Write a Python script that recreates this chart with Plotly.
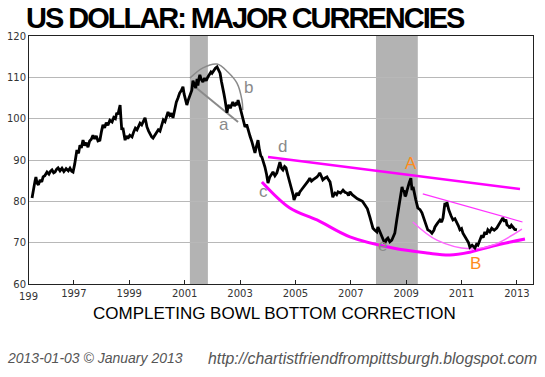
import plotly.graph_objects as go

# ---- data ----
years = [
 1995.49,1995.53,1995.56,1995.60,1995.63,1995.67,1995.72,1995.78,1995.84,1995.89,1995.95,
 1996.03,1996.10,1996.16,1996.21,1996.27,1996.32,1996.38,1996.43,1996.50,1996.57,1996.64,
 1996.72,1996.80,1996.86,1996.92,1996.97,1997.03,1997.07,1997.11,1997.17,1997.22,1997.27,
 1997.33,1997.39,1997.45,1997.51,1997.57,1997.63,1997.69,1997.75,1997.81,1997.87,1997.94,
 1998.00,1998.05,1998.11,1998.17,1998.23,1998.30,1998.38,1998.44,1998.50,1998.55,1998.59,
 1998.63,1998.67,1998.70,1998.73,1998.77,1998.81,1998.85,1998.90,1998.95,1999.02,1999.10,
 1999.16,1999.22,1999.28,1999.34,1999.39,1999.45,1999.51,1999.57,1999.61,1999.64,1999.70,
 1999.75,1999.81,1999.86,1999.93,2000.00,2000.05,2000.11,2000.17,2000.23,2000.29,2000.35,
 2000.40,2000.46,2000.52,2000.58,2000.64,2000.70,2000.76,2000.82,2000.88,2000.94,2000.98,
 2001.03,2001.08,2001.13,2001.19,2001.26,2001.30,2001.35,2001.40,2001.45,2001.48,2001.52,
 2001.55,2001.60,2001.66,2001.72,2001.78,2001.84,2001.90,2001.95,2001.99,2002.05,2002.11,
 2002.17,2002.22,2002.28,2002.33,2002.38,2002.42,2002.46,2002.50,2002.53,2002.57,2002.60,
 2002.65,2002.70,2002.74,2002.80,2002.85,2002.89,2002.93,2002.98,2003.03,2003.07,2003.12,
 2003.18,2003.24,2003.29,2003.36,2003.43,2003.48,2003.54,2003.59,2003.65,2003.70,2003.75,
 2003.79,2003.85,2003.90,2003.96,2004.01,2004.07,2004.12,2004.19,2004.26,2004.33,2004.39,
 2004.44,2004.50,2004.55,2004.61,2004.66,2004.72,2004.77,2004.82,2004.87,2004.92,2004.95,
 2005.00,2005.05,2005.11,2005.16,2005.22,2005.27,2005.35,2005.42,2005.47,2005.52,2005.58,
 2005.63,2005.70,2005.78,2005.83,2005.88,2005.94,2005.99,2006.06,2006.14,2006.20,2006.25,
 2006.30,2006.35,2006.39,2006.43,2006.49,2006.54,2006.63,2006.72,2006.79,2006.86,2006.92,
 2006.97,2007.05,2007.15,2007.24,2007.33,2007.42,2007.51,2007.60,2007.69,2007.75,2007.80,
 2007.87,2007.94,2007.98,2008.05,2008.12,2008.18,2008.23,2008.29,2008.34,2008.41,2008.48,
 2008.54,2008.59,2008.66,2008.70,2008.74,2008.80,2008.85,2008.89,2008.92,2008.96,2008.99,
 2009.03,2009.06,2009.11,2009.17,2009.21,2009.25,2009.28,2009.35,2009.42,2009.50,2009.57,
 2009.63,2009.68,2009.73,2009.78,2009.86,2009.93,2010.00,2010.04,2010.12,2010.22,2010.28,
 2010.33,2010.40,2010.44,2010.47,2010.54,2010.62,2010.69,2010.76,2010.83,2010.89,2010.94,
 2011.00,2011.05,2011.12,2011.19,2011.25,2011.30,2011.38,2011.48,2011.54,2011.59,2011.66,
 2011.73,2011.78,2011.84,2011.90,2011.95,2012.02,2012.09,2012.18,2012.27,2012.32,2012.38,
 2012.44,2012.49,2012.55,2012.60,2012.64,2012.70,2012.74,2012.80,2012.85,2012.92,2013.00,
]
dollar_index = [
 80.8,82.0,83.5,85.0,85.9,84.4,84.0,85.2,84.7,85.9,86.2,
 87.1,86.6,87.3,87.6,86.9,87.1,87.8,88.1,87.4,88.0,87.2,
 87.9,87.4,88.0,87.3,87.1,89.0,90.8,92.4,91.6,93.6,92.9,
 94.8,93.5,94.2,93.1,94.6,95.0,96.0,95.1,95.8,94.6,94.8,
 97.0,98.5,97.8,99.0,98.4,99.6,99.2,100.3,100.0,101.4,101.0,
 102.2,103.3,100.0,97.3,97.8,95.6,94.8,95.8,95.2,96.0,95.6,
 96.8,97.7,97.3,98.4,98.9,98.5,99.6,100.2,99.0,98.0,97.0,
 96.2,95.6,95.3,96.0,96.8,97.3,97.0,98.4,99.7,99.3,100.6,
 101.6,100.8,101.3,100.2,102.5,104.0,105.0,106.2,106.8,107.7,106.0,
 104.2,103.3,104.5,105.5,106.9,109.2,108.5,107.4,109.6,108.0,109.8,
 110.6,109.5,108.9,109.8,109.2,110.1,110.6,111.3,111.0,111.8,112.2,
 112.5,111.8,111.0,109.0,107.7,106.0,104.5,102.8,101.4,103.0,103.3,
 102.5,103.6,104.0,103.1,103.6,103.3,104.5,103.3,102.1,101.0,99.5,
 98.0,98.6,97.3,95.8,94.4,93.0,91.7,93.2,94.8,92.5,91.0,
 90.7,89.5,88.3,86.5,84.4,85.8,86.4,87.1,86.2,86.9,88.3,
 89.5,88.0,87.6,88.4,88.1,86.5,85.2,84.3,83.2,81.5,80.3,
 81.2,82.0,81.4,82.3,82.8,83.2,83.8,84.4,85.0,85.6,84.9,
 85.2,85.5,85.9,86.3,86.9,86.0,85.2,85.6,85.9,85.2,84.7,
 83.0,81.0,81.6,82.0,81.6,82.3,82.0,82.7,82.2,82.0,81.4,
 82.3,81.6,81.0,80.6,80.3,80.0,79.1,78.2,76.2,75.0,73.5,
 73.0,72.6,73.8,72.5,71.4,70.6,69.9,70.8,71.1,70.2,70.6,
 71.5,72.3,75.5,77.0,78.6,81.0,83.5,82.4,82.7,81.2,81.5,
 82.6,83.5,84.5,85.6,82.7,83.5,82.3,80.3,78.4,78.0,77.2,
 76.0,75.5,74.2,73.1,72.8,72.3,73.0,73.8,74.6,75.5,75.0,
 76.0,79.6,78.8,79.8,77.9,76.5,75.5,75.8,75.0,74.0,73.1,
 73.4,72.3,71.6,70.6,70.0,68.9,69.4,68.7,69.6,69.4,70.5,
 71.8,71.2,72.6,72.0,73.1,72.6,73.5,73.0,73.5,74.1,74.7,
 75.2,76.0,75.1,75.6,74.3,74.0,73.5,74.2,73.8,73.2,73.1,
]

recession_start = [2001.19, 2007.91]
recession_end = [2001.84, 2009.42]

# trend / pattern lines drawn on the chart
arc_b_x = [2001.19, 2001.66, 2002.17, 2002.56, 2002.89, 2003.07, 2003.10]
arc_b_y = [109.8, 112.3, 113.2, 111.3, 108.6, 104.5, 102.1]
line_a_x = [2001.37, 2002.93]
line_a_y = [107.7, 99.2]
upper_x = [2004.01, 2013.11]
upper_y = [90.7, 83.0]
bowl_x = [2003.79, 2004.80, 2005.78, 2006.97, 2008.52, 2009.75, 2010.58, 2011.30, 2012.13, 2013.29]
bowl_y = [84.7, 78.4, 75.5, 71.4, 68.7, 67.5, 67.0, 67.7, 69.2, 70.9]
thin_top_x = [2009.60, 2013.20]
thin_top_y = [81.8, 75.0]
thin_bowl_x = [2009.24, 2010.11, 2011.30, 2012.13, 2013.18]
thin_bowl_y = [75.0, 70.6, 68.5, 69.4, 73.3]

tick_years = [1997, 1999, 2001, 2003, 2005, 2007, 2009, 2011, 2013]

labels_gray = ["a", "b", "c", "d", "e"]
labels_gray_x = [2002.43, 2003.29, 2003.83, 2004.55, 2008.16]
labels_gray_y = [98.5, 107.5, 82.3, 93.2, 69.2]
labels_orange = ["A", "B"]
labels_orange_x = [2009.17, 2011.52]
labels_orange_y = [89.2, 64.9]

# ---- figure ----
X0, X1 = 1995.38, 2013.58
fig = go.Figure()

for s, e in zip(recession_start, recession_end):
    fig.add_shape(type="rect", xref="x", yref="paper", x0=s, x1=e, y0=0, y1=1,
                  fillcolor="#b3b3b3", line_width=0, layer="below")

fig.add_trace(go.Scatter(x=bowl_x, y=bowl_y, mode="lines", line=dict(color="#ff00ff", width=3, shape="spline", smoothing=1.0)))
fig.add_trace(go.Scatter(x=upper_x, y=upper_y, mode="lines", line=dict(color="#ff00ff", width=2.5)))
fig.add_trace(go.Scatter(x=thin_top_x, y=thin_top_y, mode="lines", line=dict(color="#ff33ff", width=1.2)))
fig.add_trace(go.Scatter(x=thin_bowl_x, y=thin_bowl_y, mode="lines", line=dict(color="#ff66ff", width=1.5, shape="spline", smoothing=1.0)))
fig.add_trace(go.Scatter(x=arc_b_x, y=arc_b_y, mode="lines", line=dict(color="#8a8a8a", width=1.5, shape="spline", smoothing=1.0)))
fig.add_trace(go.Scatter(x=line_a_x, y=line_a_y, mode="lines", line=dict(color="#8a8a8a", width=2)))
fig.add_trace(go.Scatter(x=years, y=dollar_index, mode="lines", line=dict(color="#000000", width=2.8)))

for t, x, y in zip(labels_gray, labels_gray_x, labels_gray_y):
    fig.add_annotation(x=x, y=y, text=t, showarrow=False,
                       font=dict(family="Liberation Sans, Arial", size=17, color="#8a8a8a"))
for t, x, y in zip(labels_orange, labels_orange_x, labels_orange_y):
    fig.add_annotation(x=x, y=y, text=t, showarrow=False,
                       font=dict(family="Liberation Sans, Arial", size=17, color="#ff8c1a"))

# page body margin is removed below (post_script), so figure pixels = window pixels
W, H = 545, 377
L, R, T, B = 29, 533, 36, 284
def px(xp):
    return (xp - L) / (R - L)
def py(yp):
    return (B - yp) / (B - T)

fig.add_annotation(xref="paper", yref="paper", x=px(245), y=py(18), xanchor="center", yanchor="middle",
                   text='<span style="letter-spacing:-2px">US DOLLAR: MAJOR CURRENCIES</span>',
                   showarrow=False,
                   font=dict(family="Liberation Sans, Arial", size=29, color="#000", weight="bold"))
fig.add_annotation(xref="paper", yref="paper", x=px(274), y=py(313), xanchor="center", yanchor="middle",
                   text="COMPLETING BOWL BOTTOM CORRECTION", showarrow=False,
                   font=dict(family="Liberation Sans, Arial", size=17, color="#000"))
fig.add_annotation(xref="paper", yref="paper", x=px(5), y=py(358), xanchor="left", yanchor="middle",
                   text="<i>2013-01-03 © January 2013</i>", showarrow=False,
                   font=dict(family="Liberation Sans, Arial", size=14, color="#555"))
fig.add_annotation(xref="paper", yref="paper", x=px(206), y=py(358), xanchor="left", yanchor="middle",
                   text="<i>http://chartistfriendfrompittsburgh.blogspot.com</i>", showarrow=False,
                   font=dict(family="Liberation Sans, Arial", size=15.8, color="#555"))
fig.add_annotation(xref="paper", yref="paper", x=px(17), y=py(296), xanchor="left", yanchor="middle",
                   text="199", showarrow=False,
                   font=dict(family="DejaVu Sans, Verdana", size=10, color="#333"))

fig.update_layout(
    width=W, height=H, margin=dict(l=L, r=W - R, t=T, b=H - B, autoexpand=False),
    paper_bgcolor="white", plot_bgcolor="white", showlegend=False,
    xaxis=dict(range=[X0, X1], tickvals=tick_years, ticktext=[str(v) for v in tick_years],
               automargin=False,
               showgrid=False, zeroline=False, showline=True, mirror=True,
               linecolor="#222", linewidth=1, ticks="inside", ticklen=4, tickcolor="#222",
               tickfont=dict(family="DejaVu Sans, Verdana", size=10, color="#333")),
    yaxis=dict(range=[60, 120], dtick=10, showgrid=True, gridcolor="#b8b8b8", gridwidth=1,
               automargin=False,
               zeroline=False, showline=True, mirror=True, linecolor="#222", linewidth=1,
               ticks="", tickfont=dict(family="DejaVu Sans, Verdana", size=10, color="#333")),
)

fig.write_html("out.html", config={"displayModeBar": False},
               post_script="document.body.style.margin='0';")
